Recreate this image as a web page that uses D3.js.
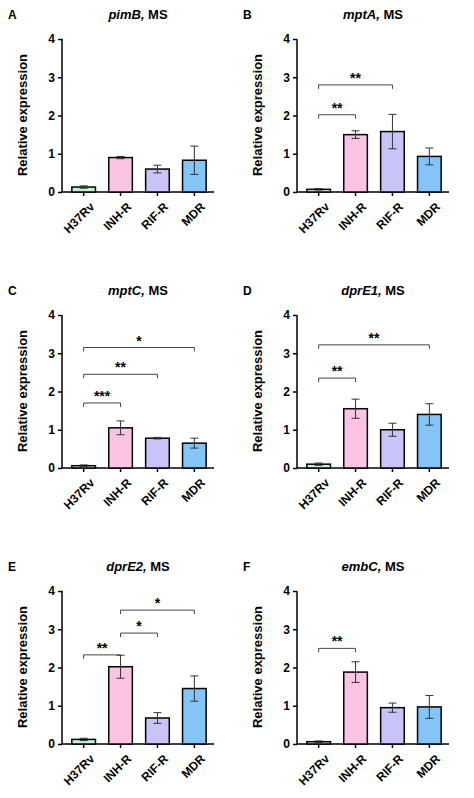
<!DOCTYPE html><html><head><meta charset="utf-8"><script src="https://cdn.jsdelivr.net/npm/d3@7"></script>
<style>body{margin:0;background:#fff}text{font-family:Arial,"Liberation Sans",sans-serif}</style></head><body>
<svg id="c" width="474" height="798"></svg>
<script>
const categories=["H37Rv","INH-R","RIF-R","MDR"];
const colors=["#c4f0d4","#fcc4e4","#c8c4f8","#84c4f8"];
const letters=["A","B","C","D","E","F"];
const genes=["pimB","mptA","mptC","dprE1","dprE2","embC"];
const means=[[0.13,0.9,0.6,0.83],[0.07,1.5,1.58,0.93],[0.06,1.05,0.78,0.65],[0.1,1.55,1.0,1.4],[0.12,2.02,0.68,1.45],[0.06,1.88,0.95,0.97]];
const errs=[[0.03,0.03,0.1,0.37],[0.02,0.1,0.45,0.22],[0.02,0.18,0.02,0.13],[0.03,0.25,0.17,0.28],[0.03,0.3,0.14,0.33],[0.02,0.27,0.12,0.3]];
const sigs=[[],[[0,1,2.02,"**"],[0,2,2.8,"**"]],[[0,1,1.7,"***"],[0,2,2.45,"**"],[0,3,3.15,"*"]],[[0,1,2.35,"**"],[0,3,3.22,"**"]],[[0,1,2.33,"**"],[1,2,2.9,"*"],[1,3,3.5,"*"]],[[0,1,2.5,"**"]]];
const yTicks=[0,1,2,3,4];
const svg=d3.select("#c");
for(let i=0;i<6;i++){
  const ox=(i%2)*235, oy=Math.floor(i/2)*276;
  const g=svg.append("g").attr("transform",`translate(${ox},${oy})`);
  const y=d3.scaleLinear().domain([0,4]).range([192,39]);
  const x=d3.scaleBand().domain(categories).range([70,208]).paddingInner(0.36).paddingOuter(0.05);
  g.append("text").attr("x",8).attr("y",19).attr("font-weight","bold").attr("font-size",12).text(letters[i]);
  const t=g.append("text").attr("x",138).attr("y",19).attr("text-anchor","middle").attr("font-weight","bold").attr("font-size",13);
  t.append("tspan").attr("font-style","italic").text(genes[i]+",");t.append("tspan").text(" MS");
  g.append("text").attr("transform","translate(27,115) rotate(-90)").attr("text-anchor","middle").attr("font-weight","bold").attr("font-size",13).text("Relative expression");
  const ya=g.append("g").attr("transform","translate(62,0)").call(d3.axisLeft(y).tickValues(yTicks).tickSize(4).tickFormat(d3.format("d")));
  ya.selectAll("text").attr("font-weight","bold").attr("font-size",12).attr("fill","#000");
  ya.selectAll("line,path").attr("stroke","#000").attr("stroke-width",1.5);
  ya.select("path").attr("d","M0,192V39");
  g.append("line").attr("x1",62).attr("x2",214).attr("y1",192).attr("y2",192).attr("stroke","#000").attr("stroke-width",1.5);
  const xa=g.append("g").attr("transform","translate(0,192)").call(d3.axisBottom(x).tickSize(4));
  xa.select("path").remove();
  xa.selectAll("line").attr("stroke","#000").attr("stroke-width",1.5);
  xa.selectAll("text").attr("font-weight","bold").attr("font-size",12).attr("fill","#000").attr("text-anchor","end").attr("dy","0.3em").attr("transform","translate(4,8) rotate(-45)");
  categories.forEach((c,j)=>{
    g.append("rect").attr("x",x(c)).attr("width",x.bandwidth()).attr("y",y(means[i][j])).attr("height",y(0)-y(means[i][j])).attr("fill",colors[j]).attr("stroke","#000").attr("stroke-width",1.5);
    const cx=x(c)+x.bandwidth()/2, lo=y(means[i][j]-errs[i][j]), hi=y(means[i][j]+errs[i][j]);
    const eg=g.append("g").attr("stroke","#333").attr("stroke-width",1);
    eg.append("line").attr("x1",cx).attr("x2",cx).attr("y1",lo).attr("y2",hi);
    eg.append("line").attr("x1",cx-4).attr("x2",cx+4).attr("y1",hi).attr("y2",hi);
    eg.append("line").attr("x1",cx-4).attr("x2",cx+4).attr("y1",lo).attr("y2",lo);
  });
  sigs[i].forEach(s=>{
    const x1=x(categories[s[0]])+x.bandwidth()/2, x2=x(categories[s[1]])+x.bandwidth()/2, yy=y(s[2]);
    g.append("path").attr("d",`M${x1},${yy+4}V${yy}H${x2}V${yy+4}`).attr("fill","none").attr("stroke","#444").attr("stroke-width",1);
    g.append("text").attr("x",(x1+x2)/2).attr("y",yy-2).attr("text-anchor","middle").attr("font-weight","bold").attr("font-size",14).text(s[3]);
  });
}
</script></body></html>
